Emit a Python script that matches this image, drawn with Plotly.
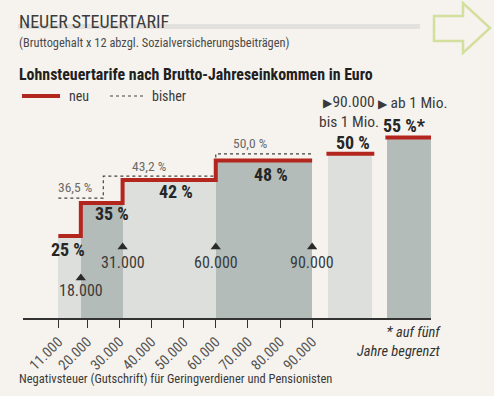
import plotly.graph_objects as go

# ---------------- data ----------------
bracket_lower = [11000, 18000, 31000, 60000]
bracket_upper = [18000, 31000, 60000, 90000]
rate_new = [25, 35, 42, 48]
rate_new_labels = ["25 %", "35 %", "42 %", "48 %"]

old_bounds = [11000, 25000, 60000, 90000]
rate_old = [36.5, 43.2, 50.0]
rate_old_labels = ["36,5 %", "43,2 %", "50,0 %"]

top_rates = [50, 55]
top_rate_labels = ["50 %", "55 %*"]
top_bracket_labels = ["90.000<br>bis 1 Mio.", "ab 1 Mio."]

thresholds = [18000, 31000, 60000, 90000]
threshold_labels = ["18.000", "31.000", "60.000", "90.000"]

tick_vals = [11000, 20000, 30000, 40000, 50000, 60000, 70000, 80000, 90000]
tick_text = ["11.000", "20.000", "30.000", "40.000", "50.000", "60.000", "70.000", "80.000", "90.000"]

# ---------------- style ----------------
W, H = 494, 396
ML, MR, MT, MB = 23, 63, 121, 78
PW, PH = W - ML - MR, H - MT - MB
BG = "#f6f3ee"
LIGHT = "#dcdfdb"
DARK = "#b4bcb9"
RED = "#b3261e"
FONT = "Liberation Sans Narrow, Roboto Condensed, Roboto, sans-serif"
XMAX = 127000
YMAX = 60

def px(x):
    return (x - ML) / PW

def py(y):
    return (H - MB - y) / PH

fig = go.Figure()

# bracket bars
centers = [(a + b) / 2 for a, b in zip(bracket_lower, bracket_upper)]
widths = [b - a for a, b in zip(bracket_lower, bracket_upper)]
fig.add_trace(go.Bar(x=centers, y=rate_new, width=widths,
                     marker=dict(color=[LIGHT, DARK, LIGHT, DARK], line=dict(width=0)),
                     hoverinfo="skip", showlegend=False))

# top bars (separate positions on the same axis)
top_w = 13700
top_centers = [101900, 120250]
fig.add_trace(go.Bar(x=top_centers, y=top_rates, width=[top_w] * 2,
                     marker=dict(color=[LIGHT, DARK], line=dict(width=0)),
                     hoverinfo="skip", showlegend=False))

# old tariff dotted step
fig.add_trace(go.Scatter(x=old_bounds, y=rate_old + [rate_old[-1]], mode="lines",
                         line=dict(color="#444444", width=1.2, dash="dot", shape="hv"),
                         hoverinfo="skip", showlegend=False))

# new tariff red step
fig.add_trace(go.Scatter(x=bracket_lower + [bracket_upper[-1]], y=rate_new + [rate_new[-1]],
                         mode="lines", line=dict(color=RED, width=4, shape="hv"),
                         hoverinfo="skip", showlegend=False))

for c, r in zip(top_centers, top_rates):
    fig.add_trace(go.Scatter(x=[c - top_w / 2 - 600, c + top_w / 2 + 600], y=[r, r], mode="lines",
                             line=dict(color=RED, width=4), hoverinfo="skip", showlegend=False))

# threshold markers
marker_y = [12.2, 21.6, 21.6, 21.6]
label_y = [8.5, 17.0, 17.0, 17.0]
fig.add_trace(go.Scatter(x=thresholds, y=marker_y, mode="markers",
                         marker=dict(symbol="triangle-up", size=9, color="#2a2a2a"),
                         hoverinfo="skip", showlegend=False))

ann = []
for t, lab, yy in zip(thresholds, threshold_labels, label_y):
    ann.append(dict(x=t, y=yy, xref="x", yref="y", text=lab, showarrow=False,
                    font=dict(size=16, color="#3a3a3a", family=FONT), xanchor="center", yanchor="middle"))

# new rate labels
new_label_pos = [(14100, 21), (27800, 31.8), (47700, 38.5), (77300, 43.8)]
for (xx, yy), lab in zip(new_label_pos, rate_new_labels):
    ann.append(dict(x=xx, y=yy, xref="x", yref="y", text="<b>%s</b>" % lab, showarrow=False,
                    font=dict(size=18, color="#262626", family=FONT), xanchor="center", yanchor="middle"))

# old rate labels
old_label_pos = [(16300, 39.8), (39300, 46.2), (70600, 53.2)]
for (xx, yy), lab in zip(old_label_pos, rate_old_labels):
    ann.append(dict(x=xx, y=yy, xref="x", yref="y", text=lab, showarrow=False,
                    font=dict(size=13.5, color="#6a6a6a", family=FONT), xanchor="center", yanchor="middle"))

# top bar labels
ann.append(dict(x=top_centers[0] + 800, y=top_rates[0] + 3.4, xref="x", yref="y",
                text="<b>%s</b>" % top_rate_labels[0], showarrow=False,
                font=dict(size=18, color="#262626", family=FONT), xanchor="center", yanchor="middle"))
ann.append(dict(x=top_centers[1] - 1500, y=top_rates[1] + 3.7, xref="x", yref="y",
                text="<b>%s</b>" % top_rate_labels[1], showarrow=False,
                font=dict(size=18, color="#262626", family=FONT), xanchor="center", yanchor="middle"))

tri = '<span style="font-size:12px">▶</span>'
ann.append(dict(x=px(349), y=py(112), xref="paper", yref="paper",
                text=tri + top_bracket_labels[0].split("<br>")[0] + "<br>" + top_bracket_labels[0].split("<br>")[1],
                showarrow=False, align="center",
                font=dict(size=15.5, color="#3a3a3a", family=FONT), xanchor="center", yanchor="middle"))
ann.append(dict(x=px(413), y=py(103), xref="paper", yref="paper",
                text=tri + " " + top_bracket_labels[1], showarrow=False,
                font=dict(size=15.5, color="#3a3a3a", family=FONT), xanchor="center", yanchor="middle"))

# headings
ann.append(dict(x=px(17), y=py(22), xref="paper", yref="paper", text="NEUER STEUERTARIF",
                showarrow=False, font=dict(size=18, color="#3c3c3c", family=FONT),
                xanchor="left", yanchor="middle"))
ann.append(dict(x=px(17), y=py(43), xref="paper", yref="paper",
                text="(Bruttogehalt x 12 abzgl. Sozialversicherungsbeiträgen)",
                showarrow=False, font=dict(size=12.4, color="#4a4a4a", family=FONT),
                xanchor="left", yanchor="middle"))
ann.append(dict(x=px(17), y=py(74), xref="paper", yref="paper",
                text="<b>Lohnsteuertarife nach Brutto-Jahreseinkommen in Euro</b>",
                showarrow=False, font=dict(size=15.9, color="#202020", family=FONT),
                xanchor="left", yanchor="middle"))
ann.append(dict(x=px(67), y=py(96), xref="paper", yref="paper", text="neu",
                showarrow=False, font=dict(size=14, color="#3a3a3a", family=FONT),
                xanchor="left", yanchor="middle"))
ann.append(dict(x=px(150), y=py(96), xref="paper", yref="paper", text="bisher",
                showarrow=False, font=dict(size=14, color="#3a3a3a", family=FONT),
                xanchor="left", yanchor="middle"))
ann.append(dict(x=px(443), y=py(342), xref="paper", yref="paper",
                text="<i>* auf fünf</i><br><i>Jahre begrenzt</i>", align="right",
                showarrow=False, font=dict(size=14.5, color="#333333", family=FONT),
                xanchor="right", yanchor="middle"))
ann.append(dict(x=px(17), y=py(378), xref="paper", yref="paper",
                text="Negativsteuer (Gutschrift) für Geringverdiener und Pensionisten",
                showarrow=False, font=dict(size=12.5, color="#3a3a3a", family=FONT),
                xanchor="left", yanchor="middle"))

shapes = [
    # title underline bar
    dict(type="rect", xref="paper", yref="paper", x0=px(18), x1=px(420), y0=py(29), y1=py(24),
         fillcolor="#e3e1dd", line=dict(width=0), layer="below"),
    # legend lines
    dict(type="line", xref="paper", yref="paper", x0=px(22), x1=px(60), y0=py(96), y1=py(96),
         line=dict(color=RED, width=4)),
    dict(type="line", xref="paper", yref="paper", x0=px(110), x1=px(143), y0=py(96), y1=py(96),
         line=dict(color="#444444", width=1.2, dash="dot")),
    # green arrow outline
    dict(type="path", xref="paper", yref="paper",
         path="M %f %f L %f %f L %f %f L %f %f L %f %f L %f %f L %f %f Z" % (
             px(434), py(16), px(463), py(16), px(463), py(3), px(490), py(28),
             px(463), py(53), px(463), py(41), px(434), py(41)),
         line=dict(color="#d3df9c", width=2.5), fillcolor="rgba(0,0,0,0)"),
]

fig.update_layout(
    width=W, height=H,
    margin=dict(l=ML, r=MR, t=MT, b=MB, pad=0),
    paper_bgcolor=BG, plot_bgcolor=BG,
    barmode="overlay", bargap=0,
    annotations=ann, shapes=shapes,
    font=dict(family=FONT),
    xaxis=dict(range=[0, XMAX], showgrid=False, zeroline=False, showline=True,
               linecolor="#333333", linewidth=1.5, ticks="outside", ticklen=8, tickwidth=1,
               tickcolor="#333333", tickvals=tick_vals, ticktext=tick_text, tickangle=-45,
               tickfont=dict(size=14.5, color="#555555", family=FONT), fixedrange=True),
    yaxis=dict(range=[0, YMAX], visible=False, fixedrange=True),
    showlegend=False,
)

fig.write_html("out.html", config={"displayModeBar": False},
               post_script="document.body.style.margin='0';document.body.style.background='%s';" % BG)
